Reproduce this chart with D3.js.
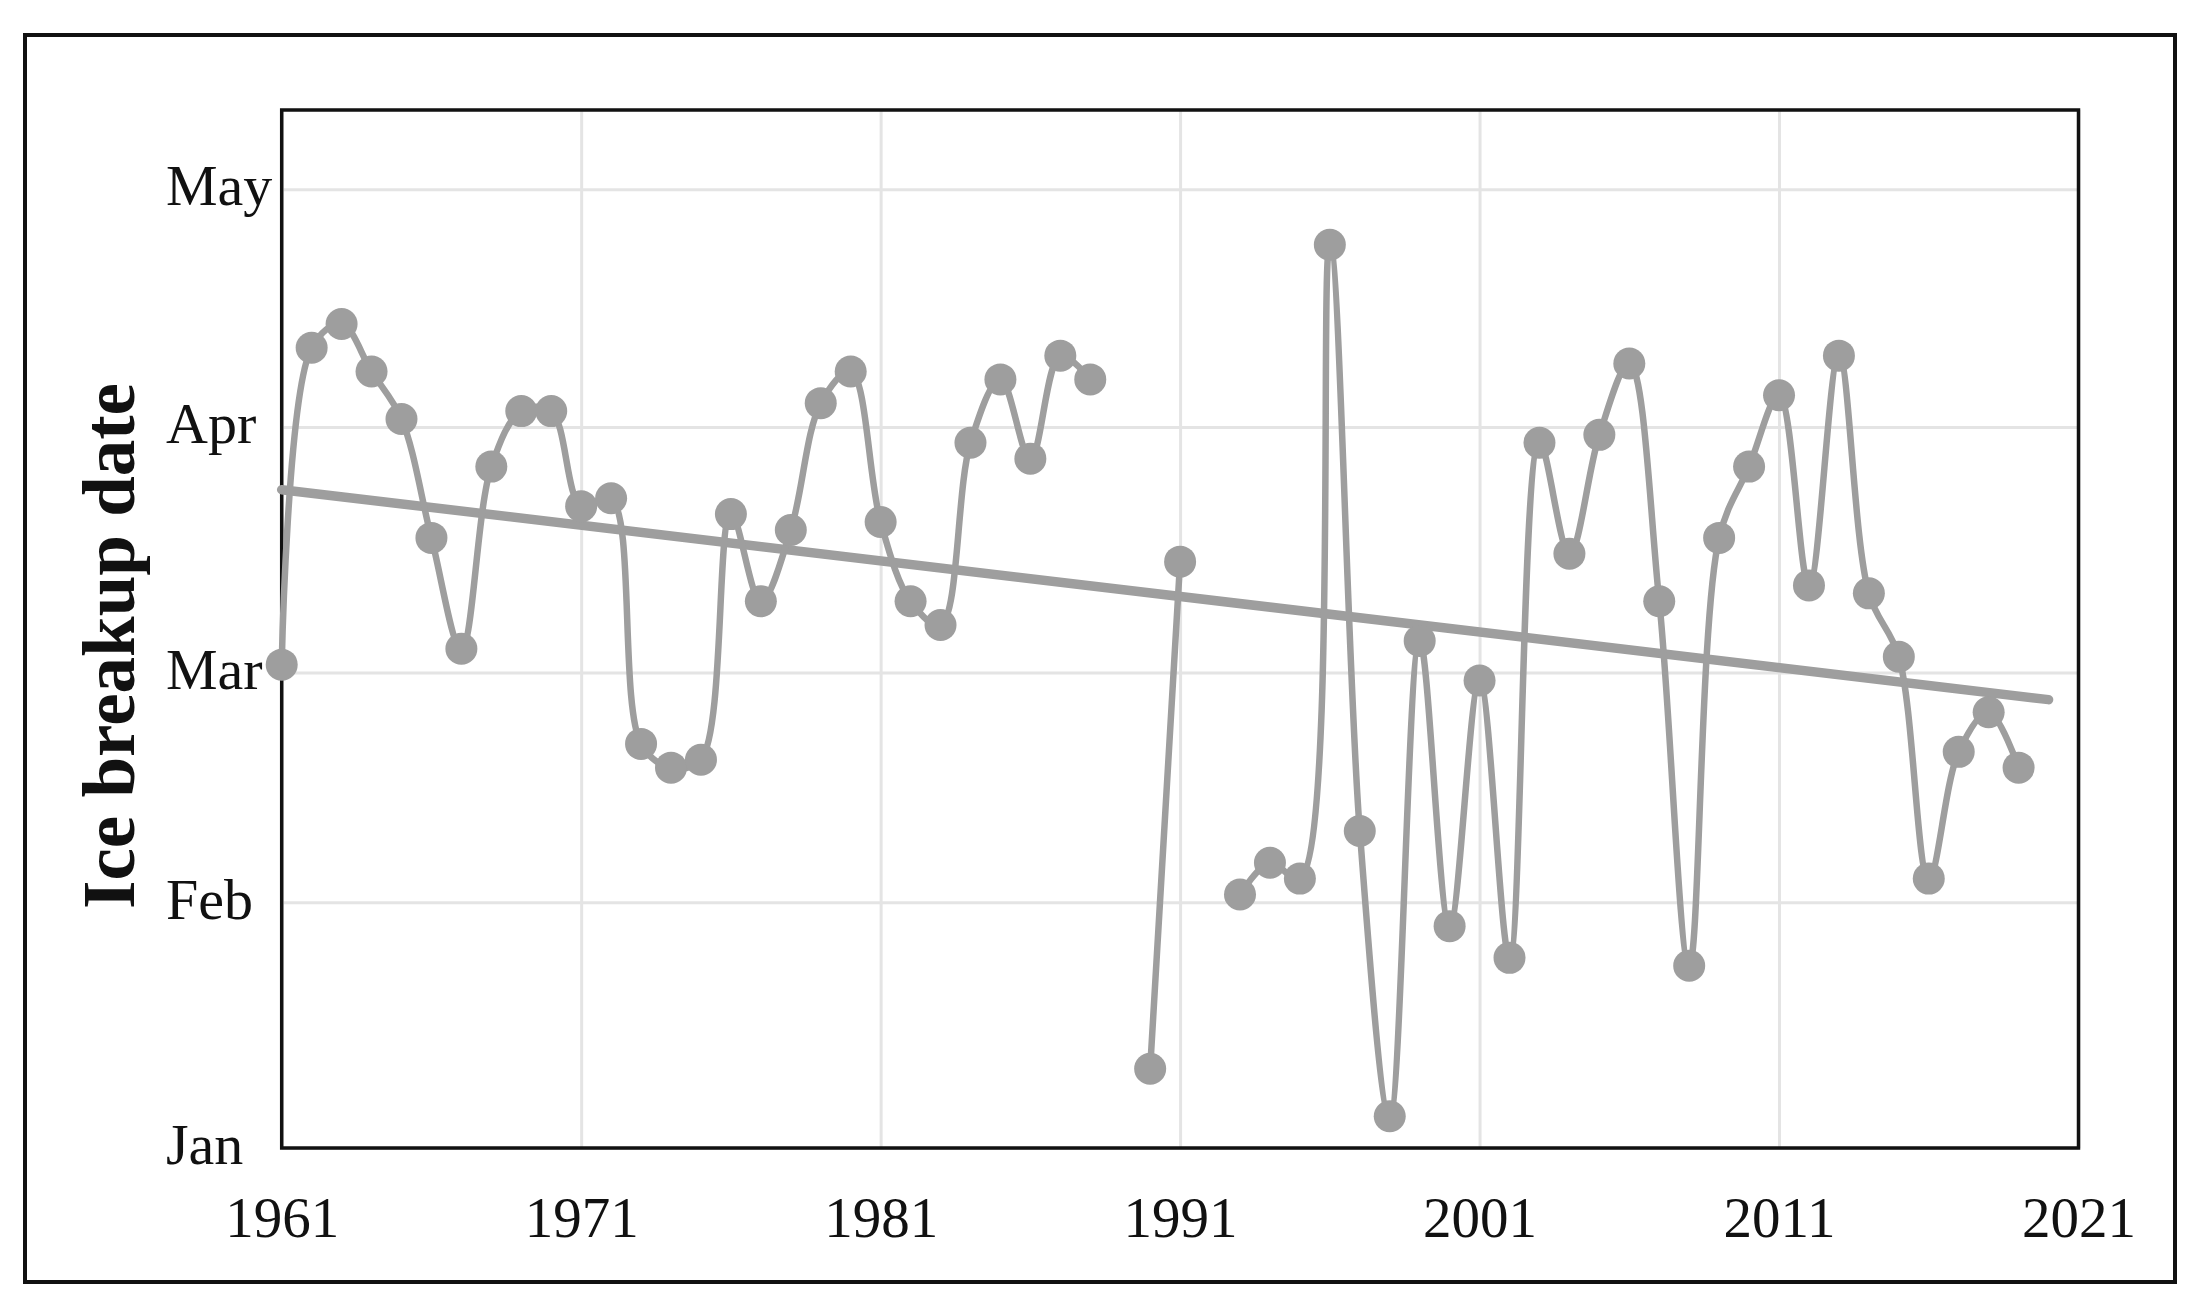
<!DOCTYPE html>
<html><head><meta charset="utf-8">
<script src="https://cdn.jsdelivr.net/npm/d3@7"></script>
<style>html,body{margin:0;padding:0;background:#fff;} svg{display:block;}</style>
</head><body>
<svg id="chart" width="2208" height="1311"></svg>
<script>
// ---- data ----
const years = [1961,1962,1963,1964,1965,1966,1967,1968,1969,1970,
               1971,1972,1973,1974,1975,1976,1977,1978,1979,1980,
               1981,1982,1983,1984,1985,1986,1987,1988,1989,1990,
               1991,1992,1993,1994,1995,1996,1997,1998,1999,2000,
               2001,2002,2003,2004,2005,2006,2007,2008,2009,2010,
               2011,2012,2013,2014,2015,2016,2017,2018,2019];
const breakupDates = ["03-02","04-11","04-14","04-08","04-02","03-18","03-04","03-27","04-03","04-03",
                      "03-22","03-23","02-21","02-18","02-19","03-21","03-10","03-19","04-04","04-08",
                      "03-20","03-10","03-07","03-30","04-07","03-28","04-10","04-07",null,"01-11",
                      "03-15",null,"02-02","02-06","02-04","04-24","02-10","01-05","03-05","01-29",
                      "02-29","01-25","03-30","03-16","03-31","04-09","03-10","01-24","03-18","03-27",
                      "04-05","03-12","04-10","03-11","03-03","02-04","02-20","02-25","02-18"];
const trendYears = [1961, 2020];
const trendDates = ["03-24T02", "02-26T14"];
const xTickYears = [1961, 1971, 1981, 1991, 2001, 2011, 2021];
const yTickDates = ["01-01", "02-01", "03-01", "04-01", "05-01"];
const yTickLabels = ["Jan", "Feb", "Mar", "Apr", "May"];
const yTitle = "Ice breakup date";

// ---- layout ----
const W = 2208, H = 1311;
const margin = {left: 281.7, top: 110, right: 129.5, bottom: 163};
const pw = W - margin.left - margin.right, ph = H - margin.top - margin.bottom;
const grey = "#9e9e9e";
const font = "'Liberation Serif', 'Times New Roman', serif";

const parseDay = d3.utcParse("%Y-%m-%d");
const parseHour = d3.utcParse("%Y-%m-%dT%H");
const toDate = s => s == null ? null : (s.length > 5 ? parseHour("2000-" + s) : parseDay("2000-" + s));

const points = years.map((y, i) => ({year: y, date: toDate(breakupDates[i])}));
const trend = trendYears.map((y, i) => ({year: y, date: toDate(trendDates[i])}));

const x = d3.scaleLinear().domain([1961, 2021]).range([0, pw]);
const y = d3.scaleUtc().domain([parseDay("2000-01-01"), parseDay("2000-05-11")]).range([ph, 0]);

const svg = d3.select("#chart");
svg.append("rect").attr("width", W).attr("height", H).attr("fill", "#fff");
// outer frame
svg.append("rect").attr("x", 25).attr("y", 35).attr("width", 2150).attr("height", 1247)
  .attr("fill", "none").attr("stroke", "#111").attr("stroke-width", 4);

const g = svg.append("g").attr("transform", `translate(${margin.left},${margin.top})`);

// gridlines
g.append("g").attr("class", "gridx")
  .call(d3.axisBottom(x).tickValues(xTickYears).tickSize(ph).tickFormat(""))
  .call(s => s.select(".domain").remove())
  .selectAll("line").attr("stroke", "#e4e4e4").attr("stroke-width", 3);
g.append("g").attr("class", "gridy")
  .call(d3.axisLeft(y).tickValues(yTickDates.map(toDate)).tickSize(-pw).tickFormat(""))
  .call(s => s.select(".domain").remove())
  .selectAll("line").attr("stroke", "#e4e4e4").attr("stroke-width", 3);

// x axis labels
g.append("g").attr("transform", `translate(0,${ph})`)
  .call(d3.axisBottom(x).tickValues(xTickYears).tickSize(0).tickPadding(0).tickFormat(d3.format("d")))
  .call(s => s.select(".domain").remove())
  .selectAll("text").attr("y", 89).attr("dy", 0)
  .attr("font-family", font).attr("font-size", 57).attr("fill", "#111");

// y axis labels (left-aligned)
g.append("g")
  .call(d3.axisLeft(y).tickValues(yTickDates.map(toDate)).tickSize(0).tickPadding(0)
        .tickFormat((d, i) => yTickLabels[i]))
  .call(s => s.select(".domain").remove())
  .selectAll("text").attr("x", 166 - margin.left).attr("dy", "0.27em").attr("text-anchor", "start")
  .attr("font-family", font).attr("font-size", 58).attr("fill", "#111");

// y title
svg.append("text").attr("transform", "translate(134,646) rotate(-90)")
  .attr("text-anchor", "middle").attr("font-family", font).attr("font-weight", "bold")
  .attr("font-size", 73).attr("fill", "#111").text(yTitle);

// panel border
g.append("rect").attr("width", pw).attr("height", ph).attr("fill", "none")
  .attr("stroke", "#111").attr("stroke-width", 3.5);

// trend line
g.append("path").datum(trend)
  .attr("d", d3.line().x(d => x(d.year)).y(d => y(d.date)))
  .attr("fill", "none").attr("stroke", grey).attr("stroke-width", 9.5).attr("stroke-linecap", "round");

// data line (smoothed)
g.append("path").datum(points)
  .attr("d", d3.line().defined(d => d.date != null).curve(d3.curveCatmullRom.alpha(0.5))
        .x(d => x(d.year)).y(d => y(d.date)))
  .attr("fill", "none").attr("stroke", grey).attr("stroke-width", 6.5).attr("stroke-linejoin", "round");

// points
g.selectAll("circle.pt").data(points.filter(d => d.date != null)).enter()
  .append("circle").attr("class", "pt")
  .attr("cx", d => x(d.year)).attr("cy", d => y(d.date)).attr("r", 16).attr("fill", grey);
</script>
</body></html>
